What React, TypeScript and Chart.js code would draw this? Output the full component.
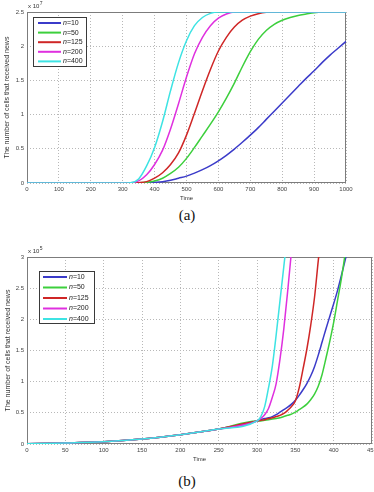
import React, { useEffect, useRef } from "react";
import { Chart, registerables } from "chart.js";
Chart.register(...registerables);

const seriesNames = ["10", "50", "125", "200", "400"];
const seriesColors = ["#3b3bc9", "#3ccf3c", "#cf2626", "#df30df", "#3de3e3"];

// ---- chart (a): values in units of 10^7 ----
const timeA = [0, 300, 325, 350, 375, 400, 425, 450, 475, 500, 525, 550, 575, 600, 625, 650, 675, 700, 725, 750, 775, 800, 825, 850, 875, 900, 925, 950, 975, 1000];
const a10 = [0, 0, 0, 0, 0.003, 0.01, 0.02, 0.04, 0.07, 0.1, 0.145, 0.195, 0.255, 0.325, 0.405, 0.495, 0.595, 0.7, 0.81, 0.93, 1.05, 1.17, 1.29, 1.41, 1.53, 1.64, 1.76, 1.87, 1.97, 2.07];
const a50 = [0, 0, 0, 0.002, 0.01, 0.03, 0.07, 0.14, 0.23, 0.36, 0.52, 0.69, 0.86, 1.04, 1.24, 1.46, 1.7, 1.92, 2.1, 2.23, 2.32, 2.38, 2.42, 2.45, 2.47, 2.49, 2.5, 2.5, 2.5, 2.5];
const a125 = [0, 0, 0, 0.005, 0.02, 0.07, 0.15, 0.27, 0.44, 0.7, 1.02, 1.35, 1.66, 1.93, 2.13, 2.28, 2.38, 2.44, 2.475, 2.495, 2.5, 2.5, 2.5, 2.5, 2.5, 2.5, 2.5, 2.5, 2.5, 2.5];
const a200 = [0, 0, 0.003, 0.03, 0.12, 0.27, 0.48, 0.79, 1.16, 1.55, 1.89, 2.13, 2.3, 2.41, 2.47, 2.5, 2.5, 2.5, 2.5, 2.5, 2.5, 2.5, 2.5, 2.5, 2.5, 2.5, 2.5, 2.5, 2.5, 2.5];
const a400 = [0, 0, 0.005, 0.06, 0.25, 0.52, 0.9, 1.35, 1.76, 2.08, 2.3, 2.42, 2.48, 2.5, 2.5, 2.5, 2.5, 2.5, 2.5, 2.5, 2.5, 2.5, 2.5, 2.5, 2.5, 2.5, 2.5, 2.5, 2.5, 2.5];
const xMaxA = 1000, xStepA = 100, yMaxA = 2.5, yStepA = 0.5, expA = "7";

// ---- chart (b): values in units of 10^5 ----
const timeB = [0, 50, 100, 150, 200, 250, 300, 305, 310, 315, 320, 325, 330, 335, 340, 345, 350, 355, 360, 365, 370, 375, 380, 385, 390, 395, 400, 405, 410, 415, 420];
const b10 = [0.005, 0.015, 0.035, 0.08, 0.15, 0.24, 0.37, 0.39, 0.41, 0.42, 0.44, 0.47, 0.51, 0.55, 0.59, 0.64, 0.7, 0.78, 0.87, 0.97, 1.09, 1.24, 1.43, 1.64, 1.85, 2.05, 2.25, 2.46, 2.7, 2.95, 3.2];
const b50 = [0.005, 0.015, 0.035, 0.08, 0.15, 0.24, 0.37, 0.37, 0.38, 0.39, 0.4, 0.41, 0.42, 0.44, 0.46, 0.48, 0.51, 0.55, 0.59, 0.64, 0.71, 0.8, 0.93, 1.12, 1.38, 1.65, 1.95, 2.3, 2.65, 3.05, 3.45];
const b125 = [0.005, 0.015, 0.035, 0.08, 0.15, 0.24, 0.37, 0.38, 0.39, 0.41, 0.42, 0.44, 0.46, 0.49, 0.54, 0.6, 0.69, 0.9, 1.2, 1.52, 1.9, 2.35, 2.95, 3.5, null, null, null, null, null, null, null];
const b200 = [0.005, 0.015, 0.035, 0.08, 0.15, 0.24, 0.37, 0.41, 0.47, 0.57, 0.75, 0.97, 1.36, 1.85, 2.45, 3.1, null, null, null, null, null, null, null, null, null, null, null, null, null, null, null];
const b400 = [0.005, 0.015, 0.035, 0.08, 0.15, 0.24, 0.37, 0.44, 0.6, 0.9, 1.25, 1.75, 2.3, 2.85, 3.4, null, null, null, null, null, null, null, null, null, null, null, null, null, null, null, null];
const xMaxB = 450, xStepB = 50, yMaxB = 3, yStepB = 0.5, expB = "5";

const yTitle = "The number of cells that received news";
const xTitle = "Time";

const FONT = "'Liberation Sans', Arial, sans-serif";

type Spec = {
  key: string;
  times: number[];
  series: (number | null)[][];
  xMax: number; xStep: number; yMax: number; yStep: number; exp: string;
  height: number;
  padding: { top: number; right: number; left: number; bottom: number };
  xAxisH: number;
  legend: { x: number; y: number; w: number; h: number; row0: number; step: number; l1: number; l2: number; tx: number };
  yTitleX: number;
};

function makePlugin(spec: Spec) {
  return {
    id: "decor_" + spec.key,
    beforeDatasetsDraw(chart: any) {
      const { ctx, chartArea: a } = chart;
      ctx.save();
      ctx.strokeStyle = "#7c7c7c";
      ctx.lineWidth = 1;
      ctx.strokeRect(a.left + 0.5, a.top + 0.5, a.right - a.left - 1, a.bottom - a.top - 1);
      ctx.restore();
    },
    afterDraw(chart: any) {
      const { ctx, chartArea: a } = chart;
      ctx.save();
      ctx.fillStyle = "#333";
      ctx.textBaseline = "alphabetic";
      ctx.textAlign = "left";
      ctx.font = `6px ${FONT}`;
      ctx.fillText("x 10", a.left + 1, a.top - 4);
      const w = ctx.measureText("x 10").width;
      ctx.font = `5px ${FONT}`;
      ctx.fillText(spec.exp, a.left + 1 + w + 0.5, a.top - 7);
      ctx.font = `6px ${FONT}`;
      ctx.textAlign = "center";
      ctx.textBaseline = "middle";
      ctx.fillText(xTitle, (a.left + a.right) / 2, a.bottom + 15);
      ctx.save();
      ctx.translate(spec.yTitleX, (a.top + a.bottom) / 2);
      ctx.rotate(-Math.PI / 2);
      ctx.font = `7px ${FONT}`;
      ctx.fillText(yTitle, 0, 0);
      ctx.restore();
      const L = spec.legend;
      ctx.fillStyle = "#fff";
      ctx.fillRect(L.x, L.y, L.w, L.h);
      ctx.strokeStyle = "#3a3a3a";
      ctx.lineWidth = 1;
      ctx.strokeRect(L.x + 0.5, L.y + 0.5, L.w - 1, L.h - 1);
      seriesNames.forEach((name, i) => {
        const y = L.row0 + i * L.step;
        ctx.strokeStyle = seriesColors[i];
        ctx.lineWidth = 2;
        ctx.beginPath();
        ctx.moveTo(L.l1, y);
        ctx.lineTo(L.l2, y);
        ctx.stroke();
        ctx.fillStyle = "#222";
        ctx.textAlign = "left";
        ctx.textBaseline = "middle";
        ctx.font = `italic 7px ${FONT}`;
        ctx.fillText("n", L.tx, y);
        const nw = ctx.measureText("n").width;
        ctx.font = `7px ${FONT}`;
        ctx.fillText("=" + name, L.tx + nw, y);
      });
      ctx.restore();
    },
  };
}

function Plot({ spec, top }: { spec: Spec; top: number }) {
  const ref = useRef<HTMLCanvasElement | null>(null);
  useEffect(() => {
    if (!ref.current) return;
    const datasets = spec.series.map((vals, i) => ({
      label: "n=" + seriesNames[i],
      data: spec.times.map((t, j) => ({ x: t, y: vals[j] })),
      borderColor: seriesColors[i],
      backgroundColor: seriesColors[i],
      borderWidth: 1.5,
      pointRadius: 0,
      fill: false,
      cubicInterpolationMode: "monotone" as const,
      order: seriesNames.length - i,
    }));
    const tickFont = { family: FONT, size: 6 };
    const chart = new Chart(ref.current, {
      type: "line",
      data: { datasets },
      options: {
        animation: false,
        responsive: false,
        events: [],
        layout: { padding: spec.padding },
        plugins: { legend: { display: false }, tooltip: { enabled: false }, title: { display: false } },
        scales: {
          x: {
            type: "linear",
            min: 0,
            max: spec.xMax,
            grid: { color: "#b8b8b8", lineWidth: 1, drawTicks: false },
            border: { display: false, dash: [1, 2] },
            ticks: {
              stepSize: spec.xStep,
              font: tickFont,
              color: "#444",
              padding: 3,
              maxRotation: 0,
              autoSkip: false,
              callback: (v: any) => String(v),
            },
            afterFit: (s: any) => {
              s.height = spec.xAxisH;
              s.paddingLeft = 0;
              s.paddingRight = 0;
            },
          },
          y: {
            type: "linear",
            min: 0,
            max: spec.yMax,
            grid: { color: "#b8b8b8", lineWidth: 1, drawTicks: false },
            border: { display: false, dash: [1, 2] },
            ticks: {
              stepSize: spec.yStep,
              font: tickFont,
              color: "#444",
              padding: 3,
              callback: (v: any) => String(v),
            },
            afterFit: (s: any) => {
              s.width = 27 - spec.padding.left;
              s.paddingTop = 0;
              s.paddingBottom = 0;
            },
          },
        },
      },
      plugins: [makePlugin(spec)],
    } as any);
    return () => chart.destroy();
  }, [spec]);
  return (
    <canvas
      ref={ref}
      width={374}
      height={spec.height}
      style={{ position: "absolute", left: 0, top, width: 374, height: spec.height }}
    />
  );
}

const specA: Spec = {
  key: "a",
  times: timeA,
  series: [a10, a50, a125, a200, a400],
  xMax: xMaxA, xStep: xStepA, yMax: yMaxA, yStep: yStepA, exp: expA,
  height: 205,
  padding: { top: 12, right: 28, left: 0, bottom: 0 },
  xAxisH: 22,
  legend: { x: 33, y: 17, w: 54, h: 50, row0: 23, step: 9.6, l1: 38, l2: 61, tx: 63 },
  yTitleX: 7,
};

const specB: Spec = {
  key: "b",
  times: timeB,
  series: [b10, b50, b125, b200, b400],
  xMax: xMaxB, xStep: xStepB, yMax: yMaxB, yStep: yStepB, exp: expB,
  height: 232,
  padding: { top: 22, right: 2, left: 0, bottom: 0 },
  xAxisH: 23,
  legend: { x: 39, y: 36, w: 56, h: 53, row0: 42, step: 10.5, l1: 43, l2: 67, tx: 69 },
  yTitleX: 8,
};

const captionStyle: React.CSSProperties = {
  position: "absolute",
  left: 0,
  width: 374,
  textAlign: "center",
  fontFamily: "'Liberation Serif', 'Times New Roman', serif",
  fontSize: 15,
  lineHeight: "18px",
  color: "#111",
};

export default function App() {
  return (
    <div style={{ position: "fixed", left: 0, top: 0, width: 374, height: 492, background: "#fff", overflow: "hidden" }}>
      <Plot spec={specA} top={0} />
      <div style={{ ...captionStyle, top: 206 }}>(a)</div>
      <Plot spec={specB} top={235} />
      <div style={{ ...captionStyle, top: 472 }}>(b)</div>
    </div>
  );
}
